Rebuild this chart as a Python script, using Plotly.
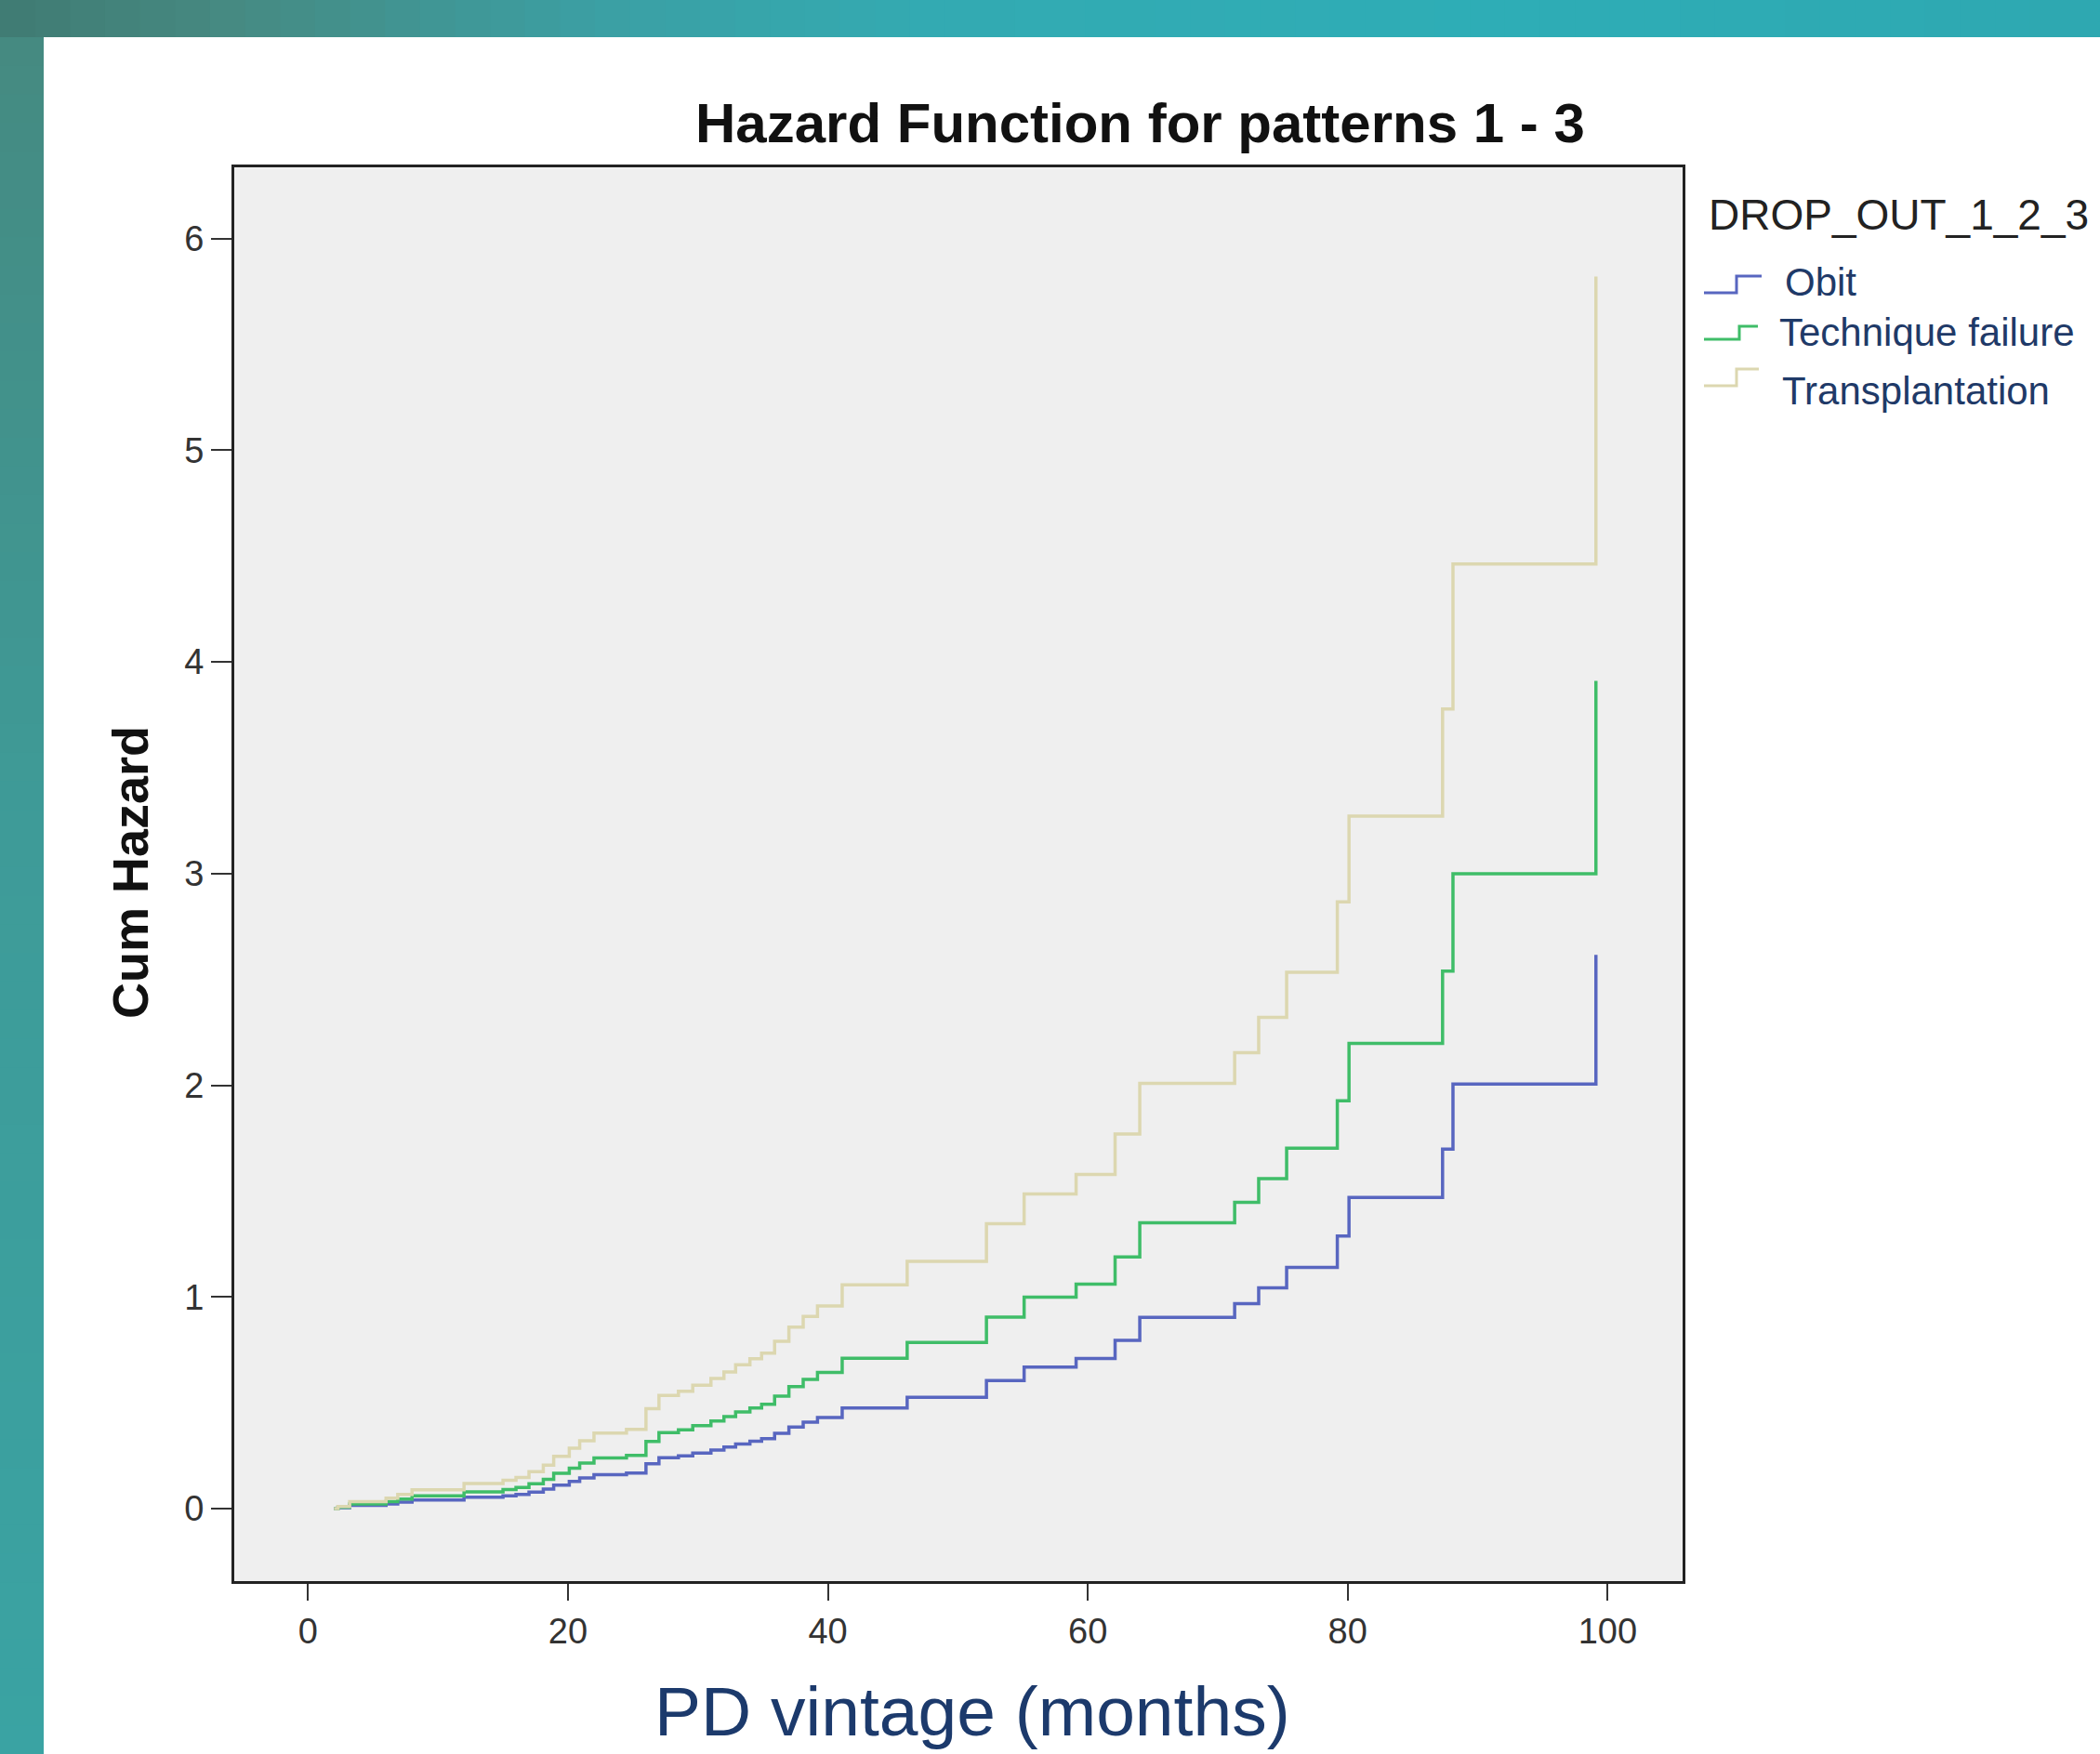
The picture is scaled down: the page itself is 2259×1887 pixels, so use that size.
import plotly.graph_objects as go

# ---------------- data ----------------
months = [2.0, 2.3, 3.2, 6.0, 6.9, 8.0, 12.0, 15.0, 16.0, 17.0, 18.1, 18.9, 20.1, 20.9,
          22.0, 24.5, 26.0, 27.0, 28.5, 29.6, 31.0, 32.0, 32.9, 34.0, 34.9, 35.9,
          37.0, 38.1, 39.2, 41.1, 46.1, 52.2, 55.1, 59.1, 62.1, 64.0, 71.3, 73.15,
          75.3, 79.2, 80.1, 87.3, 88.1, 99.1]

obit = [0.000, 0.004, 0.015, 0.022, 0.030, 0.040, 0.053, 0.060, 0.066, 0.078, 0.092,
        0.111, 0.128, 0.144, 0.160, 0.168, 0.212, 0.240, 0.249, 0.262, 0.276, 0.290,
        0.305, 0.318, 0.330, 0.355, 0.385, 0.408, 0.430, 0.475, 0.525, 0.605, 0.668,
        0.709, 0.795, 0.903, 0.968, 1.043, 1.139, 1.288, 1.470, 1.698, 2.006, 2.616]

technique_failure = [0.000, 0.006, 0.022, 0.033, 0.045, 0.060, 0.079, 0.090, 0.099, 0.117,
                     0.138, 0.166, 0.191, 0.215, 0.239, 0.251, 0.317, 0.359, 0.372, 0.392,
                     0.413, 0.434, 0.456, 0.475, 0.493, 0.531, 0.576, 0.610, 0.643, 0.710,
                     0.785, 0.904, 0.999, 1.060, 1.189, 1.350, 1.447, 1.559, 1.703, 1.926,
                     2.198, 2.539, 2.999, 3.911]

transplantation = [0.000, 0.009, 0.033, 0.049, 0.067, 0.089, 0.118, 0.134, 0.147, 0.174,
                   0.205, 0.247, 0.285, 0.320, 0.356, 0.374, 0.472, 0.534, 0.554, 0.583,
                   0.614, 0.645, 0.679, 0.708, 0.734, 0.790, 0.857, 0.908, 0.957, 1.057,
                   1.168, 1.346, 1.486, 1.578, 1.769, 2.009, 2.154, 2.321, 2.534, 2.866,
                   3.271, 3.778, 4.463, 5.821]

series_names = ["Obit", "Technique failure", "Transplantation"]
series_values = [obit, technique_failure, transplantation]
series_colors = ["#5866c0", "#3fbd68", "#dcd7b0"]

x_ticks = [0, 20, 40, 60, 80, 100]
y_ticks = [0, 1, 2, 3, 4, 5, 6]

title_text = "Hazard Function for patterns 1 - 3"
x_title = "PD vintage (months)"
y_title = "Cum Hazard"
legend_title = "DROP_OUT_1_2_3"

# ---------------- layout helpers ----------------
W, H = 2259, 1887


def px(x):
    return x / W


def py(y):
    return 1 - y / H


def hex_to_rgb(h):
    h = h.lstrip("#")
    return tuple(int(h[i:i + 2], 16) for i in (0, 2, 4))


def lerp_color(stops, pos):
    for (p0, c0), (p1, c1) in zip(stops[:-1], stops[1:]):
        if p0 <= pos <= p1:
            t = (pos - p0) / (p1 - p0) if p1 > p0 else 0
            a, b = hex_to_rgb(c0), hex_to_rgb(c1)
            r = [round(a[i] + (b[i] - a[i]) * t) for i in range(3)]
            return "rgb(%d,%d,%d)" % tuple(r)
    return stops[-1][1]


fig = go.Figure()

for name, vals, col in zip(series_names, series_values, series_colors):
    fig.add_trace(go.Scatter(
        x=months, y=vals, name=name, mode="lines",
        line=dict(shape="hv", color=col, width=3.5),
        showlegend=False,
    ))

shapes = []
# teal frame (gradient approximated by bands)
top_stops = [(0, "#3f7b73"), (250, "#468a82"), (650, "#3ba0a4"), (1000, "#33aab2"),
             (1600, "#2eadb6"), (2259, "#2ea8b1")]
n = 60
for i in range(n):
    x0 = W * i / n
    x1 = W * (i + 1) / n
    shapes.append(dict(type="rect", xref="paper", yref="paper",
                       x0=px(x0), x1=px(x1) + 0.0005, y0=py(40), y1=1,
                       fillcolor=lerp_color(top_stops, (x0 + x1) / 2), line=dict(width=0),
                       layer="below"))
left_stops = [(40, "#458a81"), (900, "#3e9b98"), (1887, "#3aa3a3")]
for i in range(n):
    y0 = 40 + (H - 40) * i / n
    y1 = 40 + (H - 40) * (i + 1) / n
    shapes.append(dict(type="rect", xref="paper", yref="paper",
                       x0=0, x1=px(47), y0=py(y1) - 0.0005, y1=py(y0),
                       fillcolor=lerp_color(left_stops, (y0 + y1) / 2), line=dict(width=0),
                       layer="below"))

# custom legend step icons
icons = [
    (1833, 1868, 1895, 315, 297),
    (1833, 1871, 1891, 365, 351),
    (1833, 1868, 1892, 415, 397),
]
for (xa, xb, xc, ylo, yhi), col in zip(icons, series_colors):
    path = "M %f %f L %f %f L %f %f L %f %f" % (px(xa), py(ylo), px(xb), py(ylo),
                                                 px(xb), py(yhi), px(xc), py(yhi))
    shapes.append(dict(type="path", xref="paper", yref="paper", path=path,
                       line=dict(color=col, width=3)))

annotations = [
    dict(text="<b>%s</b>" % title_text, x=px(1226), y=py(132), xref="paper", yref="paper",
         showarrow=False, xanchor="center", yanchor="middle",
         font=dict(family="Liberation Sans, Arial", size=60, color="#111111")),
    dict(text="<b>%s</b>" % y_title, x=px(140), y=py(939), xref="paper", yref="paper",
         showarrow=False, xanchor="center", yanchor="middle", textangle=-90,
         font=dict(family="Liberation Sans, Arial", size=54, color="#111111")),
    dict(text=x_title, x=px(1046), y=py(1841), xref="paper", yref="paper",
         showarrow=False, xanchor="center", yanchor="middle",
         font=dict(family="Liberation Sans, Arial", size=75, color="#1c3a6c")),
    dict(text=legend_title, x=px(1836), y=py(231), xref="paper", yref="paper",
         showarrow=False, xanchor="left", yanchor="middle",
         font=dict(family="Liberation Sans, Arial", size=46, color="#222222")),
]
legend_pos = [(1918, 303), (1912, 358), (1915, 420)]
for (lx, ly), name in zip(legend_pos, series_names):
    annotations.append(dict(text=name, x=px(lx), y=py(ly), xref="paper", yref="paper",
                            showarrow=False, xanchor="left", yanchor="middle",
                            font=dict(family="Liberation Sans, Arial", size=42,
                                      color="#1f3a68")))

fig.update_layout(
    width=W, height=H, autosize=False,
    margin=dict(l=0, r=0, t=0, b=0, pad=0),
    paper_bgcolor="white", plot_bgcolor="#efefef",
    shapes=shapes, annotations=annotations,
    xaxis=dict(domain=[px(252), px(1810)], range=[-5.68, 105.77],
               tickvals=x_ticks, ticktext=[str(v) for v in x_ticks],
               ticks="outside", ticklen=18, tickwidth=2, tickcolor="#333333",
               showline=True, mirror=True, linecolor="#222222", linewidth=3,
               showgrid=False, zeroline=False, ticklabelstandoff=0,
               tickfont=dict(family="Liberation Sans, Arial", size=38, color="#333333")),
    yaxis=dict(domain=[py(1701), py(180)], range=[-0.343, 6.337],
               tickvals=y_ticks, ticktext=[str(v) for v in y_ticks],
               ticks="outside", ticklen=22, tickwidth=2, tickcolor="#333333",
               showline=True, mirror=True, linecolor="#222222", linewidth=3,
               showgrid=False, zeroline=False, ticklabelstandoff=0,
               tickfont=dict(family="Liberation Sans, Arial", size=38, color="#333333")),
)

fig.write_html(
    "out.html",
    config={"displayModeBar": False},
    post_script="document.body.style.margin='0';document.body.style.overflow='hidden';",
)
